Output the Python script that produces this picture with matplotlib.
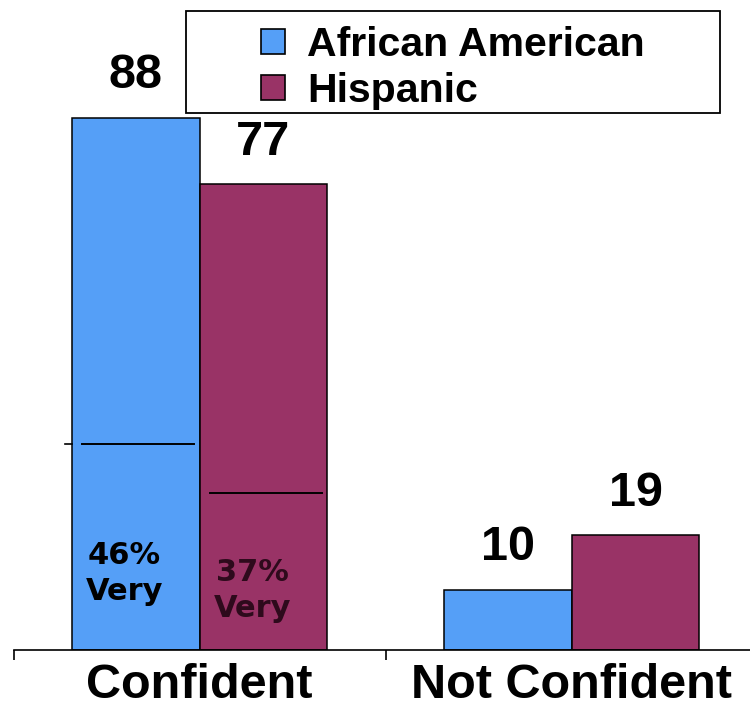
import matplotlib
matplotlib.use('Agg')
import matplotlib.pyplot as plt
from matplotlib.patches import Patch, Rectangle
import numpy as np

categories = ['Confident', 'Not Confident']
groups = ['African American', 'Hispanic']
african_american = [88, 10]
hispanic = [77, 19]
# level of the "very confident" divider inside each Confident bar
very_divider = [34, 26]
very_labels = ['46%\nVery', '37%\nVery']

BLUE = '#559ff7'
MAROON = '#993366'
FONT = 'Liberation Sans'

fig = plt.figure(figsize=(7.5, 7.06), dpi=100)
ax = fig.add_axes([13.5 / 750, 1 - 650 / 706, 744 / 750, 605 / 706])

x = np.arange(len(categories))
width = 0.344
series = [african_american, hispanic]
colors = [BLUE, MAROON]
for i, (vals, color) in enumerate(zip(series, colors)):
    offset = (i - 0.5) * width
    bars = ax.bar(x + offset, vals, width, color=color, edgecolor='black',
                  linewidth=1.1, zorder=2)
    for rect, v in zip(bars, vals):
        ax.annotate(str(v), (rect.get_x() + rect.get_width() / 2, v),
                    xytext=(0, 21), textcoords='offset points',
                    ha='center', va='baseline', fontsize=35,
                    fontweight='bold', family=FONT)

    # divider line and "very" share inside the Confident bar
    cx = x[0] + offset
    ax.plot([cx - width / 2 + 0.028, cx + width / 2 - 0.016],
            [very_divider[i]] * 2, color='black', lw=1.4, zorder=3)
    text_y = [12.6, 9.9][i]
    ax.text(cx - 0.03, text_y, very_labels[i], ha='center', va='center',
            fontsize=22, fontweight='bold', family='DejaVu Sans',
            color=['black', '#2e0a1c'][i], linespacing=1.3, zorder=4)

# small tick left of the first bar at the divider level
ax.plot([-width - 0.018, -width], [very_divider[0]] * 2,
        color='black', lw=1.2, clip_on=False)

ax.set_xlim(-0.5, 1.5)
ax.set_ylim(0, 100)
for side in ['left', 'right', 'top']:
    ax.spines[side].set_visible(False)
ax.spines['bottom'].set_linewidth(1.2)
ax.set_yticks([])
ax.set_xticks(x)
ax.set_xticklabels(categories, fontsize=35, fontweight='bold', family=FONT)
ax.set_xticks([-0.5, 0.5, 1.5], minor=True)
ax.tick_params(axis='x', which='major', length=0, pad=9)
ax.tick_params(axis='x', which='minor', length=7.5, width=1.2)

# legend box
fig.patches.append(Rectangle((186 / 750, 1 - 113 / 706), 534 / 750,
                             102 / 706, transform=fig.transFigure,
                             facecolor='white', edgecolor='black',
                             linewidth=1.3, zorder=5))
handles = [Patch(facecolor=c, edgecolor='black', linewidth=1.2)
           for c in colors]
leg = fig.legend(handles, groups, loc='center',
                 bbox_to_anchor=(453 / 750, 1 - 68 / 706),
                 frameon=False, handlelength=0.58, handleheight=0.58,
                 handletextpad=0.55, labelspacing=0.2, borderpad=0,
                 prop={'family': FONT, 'weight': 'bold', 'size': 29.5})
leg.set_zorder(6)

fig.savefig('out.png', dpi=100)
